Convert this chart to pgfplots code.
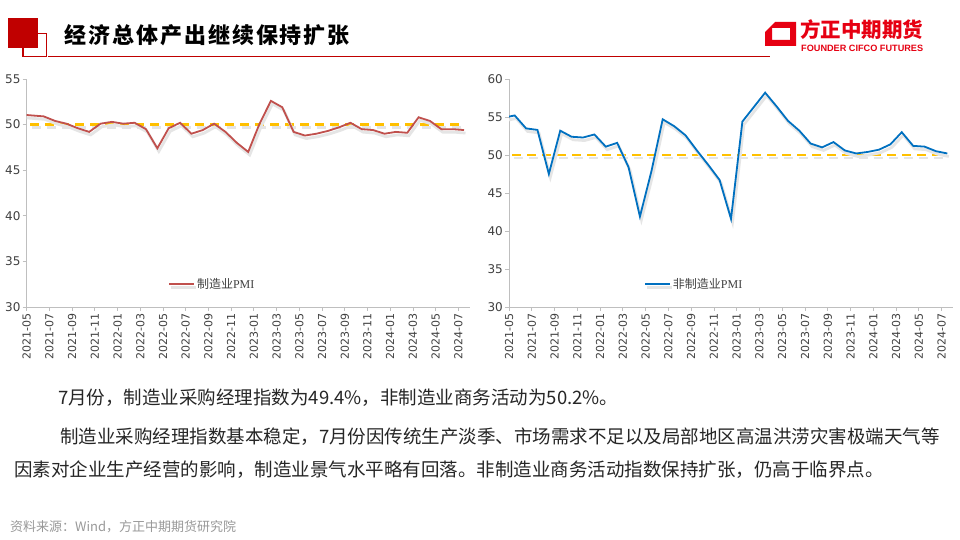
\documentclass[border=0pt]{standalone}
\usepackage{pgfplots}
\pgfplotsset{compat=1.18}
\usepackage{pgfplotstable}
\usepackage{graphicx}
\usepackage{fontspec}
\setmainfont{DejaVu Sans}
\newfontfamily\cjk{Noto Sans CJK SC}
\newfontfamily\lser{Liberation Serif}
\newfontfamily\lsans{Liberation Sans}
\definecolor{fzred}{HTML}{C00000}
\definecolor{logored}{HTML}{E60012}
\definecolor{mfg}{HTML}{C0504D}
\definecolor{nmfg}{HTML}{0070C0}
\definecolor{thr}{HTML}{FFC000}
\definecolor{axgray}{HTML}{BFBFBF}
\definecolor{tickgray}{HTML}{404040}
\definecolor{bodytext}{HTML}{262626}

\pgfplotstableread{
x y
-0.5 51.1
0.5 51.0
1.5 50.9
2.5 50.4
3.5 50.1
4.5 49.6
5.5 49.2
6.5 50.1
7.5 50.3
8.5 50.1
9.5 50.2
10.5 49.5
11.5 47.4
12.5 49.6
13.5 50.2
14.5 49.0
15.5 49.4
16.5 50.1
17.5 49.2
18.5 48.0
19.5 47.0
20.5 50.1
21.5 52.6
22.5 51.9
23.5 49.2
24.5 48.8
25.5 49.0
26.5 49.3
27.5 49.7
28.5 50.2
29.5 49.5
30.5 49.4
31.5 49.0
32.5 49.2
33.5 49.1
34.5 50.8
35.5 50.4
36.5 49.5
37.5 49.5
38.5 49.4
}\mfgtable

\pgfplotstableread{
x y
-0.5 54.9
0.5 55.2
1.5 53.5
2.5 53.3
3.5 47.5
4.5 53.2
5.5 52.4
6.5 52.3
7.5 52.7
8.5 51.1
9.5 51.6
10.5 48.4
11.5 41.9
12.5 47.8
13.5 54.7
14.5 53.8
15.5 52.6
16.5 50.6
17.5 48.7
18.5 46.7
19.5 41.6
20.5 54.4
21.5 56.3
22.5 58.2
23.5 56.4
24.5 54.5
25.5 53.2
26.5 51.5
27.5 51.0
28.5 51.7
29.5 50.6
30.5 50.2
31.5 50.4
32.5 50.7
33.5 51.4
34.5 53.0
35.5 51.2
36.5 51.1
37.5 50.5
38.5 50.2
}\nmfgtable

\pgfplotstableread{
x y
0.3 50
38.3 50
}\thrtable

\pgfplotsset{pmi/.style={
  scale only axis, height=228pt,
  xmin=0, xmax=39, ymin=30,
  axis x line*=bottom, axis y line*=left,
  axis line style={axgray, line width=0.8pt, -},
  tick align=outside, major tick length=4pt,
  tick style={axgray, line width=0.8pt},
  xtick={0,2,...,38},
  xticklabels={2021-05,2021-07,2021-09,2021-11,2022-01,2022-03,2022-05,2022-07,2022-09,2022-11,2023-01,2023-03,2023-05,2023-07,2023-09,2023-11,2024-01,2024-03,2024-05,2024-07},
  xticklabel style={rotate=90, anchor=east, font=\fontsize{11}{12}\selectfont, text=tickgray, inner sep=2pt},
  yticklabel style={font=\fontsize{12}{13}\selectfont, text=tickgray, inner sep=2pt},
  /pgf/number format/assume math mode=true,
  clip=true,
  legend style={draw=none, fill=none, anchor=west, inner sep=0pt, font=\fontsize{12}{13}\selectfont, text=tickgray},
  legend image code/.code={\draw[##1] (0pt,0pt) -- (25pt,0pt);},
}}

\begin{document}
\begin{tikzpicture}
\path[use as bounding box, fill=white] (0pt,0pt) rectangle (960pt,540pt);

\begin{scope}[x=1pt, y=1pt]
% header
\draw[fzred, line width=1.5pt] (23,506.7) rectangle (46.7,483.3);
\fill[fzred] (8,522) rectangle (38,492);
\draw[fzred, line width=1pt] (48,483) -- (770,483);
\node[anchor=west, inner sep=0pt] at (64,505) {\cjk\bfseries\addfontfeature{LetterSpace=9}\fontsize{22}{24}\selectfont 经济总体产出继续保持扩张};

% logo
\fill[logored, even odd rule] (765,508) -- (775,518) -- (796,518) -- (796,494) -- (765,494) -- cycle
  (772,500) rectangle (790,512);
\node[anchor=west, inner sep=0pt, text=logored] at (800,510) {\cjk\bfseries\fontsize{20.5}{22}\selectfont 方正中期期货};
\node[anchor=west, inner sep=0pt, text=logored] at (801,491.5) {\resizebox{122pt}{!}{\lsans\bfseries FOUNDER CIFCO FUTURES}};

% body text
\node[anchor=west, inner sep=0pt, text=bodytext] at (58,142) {\cjk\fontsize{18.5}{20}\selectfont 7月份，制造业采购经理指数为49.4\%，非制造业商务活动为50.2\%。};
\node[anchor=west, inner sep=0pt, text=bodytext] at (60,103) {\cjk\fontsize{18.5}{20}\selectfont 制造业采购经理指数基本稳定，7月份因传统生产淡季、市场需求不足以及局部地区高温洪涝灾害极端天气等};
\node[anchor=west, inner sep=0pt, text=bodytext] at (14,70) {\cjk\fontsize{18.5}{20}\selectfont 因素对企业生产经营的影响，制造业景气水平略有回落。非制造业商务活动指数保持扩张，仍高于临界点。};
\node[anchor=west, inner sep=0pt, text=black!40] at (10,13) {\cjk\fontsize{13}{14}\selectfont 资料来源：Wind，方正中期期货研究院};
\end{scope}

% left chart
\begin{axis}[pmi, at={(26.7pt,233pt)}, anchor=south west, width=443pt,
  ymax=55, ytick={30,35,...,55},
  legend style={at={(0.319,0.10)}}]
\addplot[thr, line width=2.2pt, dash pattern=on 9pt off 6pt, forget plot,
  preaction={draw, black!10, line width=2.8pt, transform canvas={xshift=1.5pt, yshift=-3pt}}] table {\thrtable};
\addplot[mfg, line width=1.8pt,
  preaction={draw, black!10, line width=2.8pt, transform canvas={xshift=1.5pt, yshift=-3pt}}] table {\mfgtable};
\addlegendentry{{\cjk 制造业}{\lser PMI}}
\end{axis}

% right chart
\begin{axis}[pmi, at={(509pt,233pt)}, anchor=south west, width=444pt,
  ymax=60, ytick={30,35,...,60},
  legend style={at={(0.304,0.10)}}]
\addplot[thr, line width=2.2pt, dash pattern=on 9pt off 6pt, forget plot,
  preaction={draw, black!10, line width=2.8pt, transform canvas={xshift=1.5pt, yshift=-3pt}}] table {\thrtable};
\addplot[nmfg, line width=1.8pt,
  preaction={draw, black!10, line width=2.8pt, transform canvas={xshift=1.5pt, yshift=-3pt}}] table {\nmfgtable};
\addlegendentry{{\cjk 非制造业}{\lser PMI}}
\end{axis}
\end{tikzpicture}
\end{document}
